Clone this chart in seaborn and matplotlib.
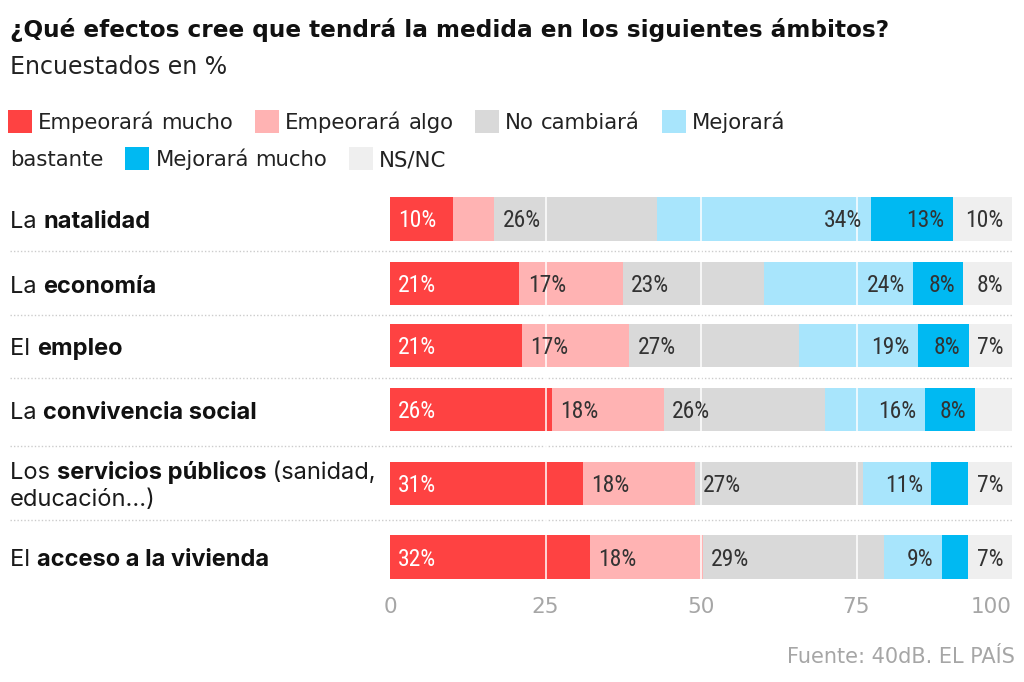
import numpy as np
import pandas as pd
import seaborn as sns
import matplotlib
matplotlib.use('Agg')
import matplotlib.pyplot as plt
from matplotlib import font_manager as fm
from matplotlib.patches import Rectangle
from matplotlib.transforms import blended_transform_factory

# Datos (encuestados en %)
categorias = ['Empeorará mucho', 'Empeorará algo', 'No cambiará',
              'Mejorará bastante', 'Mejorará mucho', 'NS/NC']
ambito_pre = ['La ', 'La ', 'El ', 'La ', 'Los ', 'El ']
ambito_bold = ['natalidad', 'economía', 'empleo', 'convivencia social',
               'servicios públicos', 'acceso a la vivienda']
ambito_post = ['', '', '', '', ' (sanidad,', '']
ambito_linea2 = ['', '', '', '', 'educación...)', '']

empeorara_mucho = [10.2, 20.8, 21.2, 26, 31, 32.2]
empeorara_algo = [6.6, 16.6, 17.3, 18, 18, 18.1]
no_cambiara = [26.2, 22.8, 27.2, 26, 27, 29.2]
mejorara_bastante = [34.3, 23.9, 19.2, 16, 11, 9.2]
mejorara_mucho = [13.2, 8.1, 8.2, 8, 6, 4.3]
ns_nc = [9.5, 7.8, 6.9, 6, 7, 7.0]

ticks = [0, 25, 50, 75, 100]
colores = ['#fe4242', '#ffb3b3', '#d9d9d9', '#a8e5fc', '#00b9f2', '#efefef']


def has_font(name):
    try:
        fm.findfont(fm.FontProperties(family=name), fallback_to_default=False)
        return True
    except Exception:
        return False


COND = 'DejaVu Sans'
for nombre in ['Roboto Condensed', 'Liberation Sans Narrow', 'Roboto']:
    if has_font(nombre):
        COND = nombre
        break
LABEL_FONT = 'Inter' if has_font('Inter') else 'DejaVu Sans'

sns.set_theme(style='white')
plt.rcParams['font.family'] = ['DejaVu Sans']

W, H = 1024, 682
fig = plt.figure(figsize=(W / 100, H / 100), dpi=100)


def fx(x):
    return x / W


def fy(y):
    return 1 - y / H


# posiciones de las filas (la fila de dos líneas deja más hueco)
posiciones = [0, 1.015, 2.0, 3.0, 4.165, 5.33]
y_top_px, y_bot_px = 219, 557
unit = (y_bot_px - y_top_px) / posiciones[-1]
ax_top = y_top_px - 0.5 * unit
ax_bot = y_bot_px + 0.5 * unit
ax = fig.add_axes([fx(390), fy(ax_bot), fx(1012) - fx(390), (ax_bot - ax_top) / H])

valores = np.array([empeorara_mucho, empeorara_algo, no_cambiara,
                    mejorara_bastante, mejorara_mucho, ns_nc], dtype=float)
acumulado = np.cumsum(valores, axis=0)
inicio = acumulado - valores

df = pd.DataFrame({'pos': posiciones})
for k in range(len(categorias) - 1, -1, -1):
    df['acum'] = acumulado[k]
    sns.barplot(data=df, x='acum', y='pos', orient='h', native_scale=True,
                color=colores[k], saturation=1, width=0.69, linewidth=0,
                errorbar=None, ax=ax)

ax.set_xlim(0, 100)
ax.set_ylim(posiciones[-1] + 0.5, -0.5)
for t in ticks[1:-1]:
    ax.axvline(t, color='white', lw=1.1, zorder=5)

# etiquetas de valor (las muy pequeñas no se rotulan)
for k in range(len(categorias)):
    for i, p in enumerate(posiciones):
        v = valores[k, i]
        if v < 6.8:
            continue
        col = 'white' if k == 0 else '#333333'
        if k < 3:
            xv, ha, dx = inicio[k, i], 'left', 6
        else:
            xv, ha, dx = acumulado[k, i], 'right', -6
        ax.annotate(f'{v:.0f}%', (xv, p), xytext=(dx, -8.5 * 0.72),
                    textcoords='offset points', ha=ha, va='baseline',
                    fontsize=17, family=COND, color=col,
                    zorder=6, annotation_clip=False)

ax.set_xticks(ticks)
ax.set_xticklabels([str(t) for t in ticks], fontsize=15.5, color='#a6a6a6')
ax.get_xticklabels()[-1].set_ha('right')
ax.tick_params(axis='x', length=0, pad=6)
ax.set_yticks([])
ax.set_xlabel('')
ax.set_ylabel('')
sns.despine(ax=ax, left=True, bottom=True)

# separadores punteados entre filas
trans = blended_transform_factory(fig.transFigure, ax.transData)
for a, b in zip(posiciones[:-1], posiciones[1:]):
    ax.plot([fx(10), fx(1012)], [(a + b) / 2] * 2, transform=trans, clip_on=False,
            color='#cccccc', lw=1, ls=(0, (1, 1.5)), zorder=1)

renderer = fig.canvas.get_renderer()


def ancho(t):
    return t.get_window_extent(renderer).width


# etiquetas de los ámbitos (parte en negrita)
FS_ROW = 17
for i, p in enumerate(posiciones):
    yc = H - ax.transData.transform((0, p))[1]
    y1 = yc - 13.5 if ambito_linea2[i] else yc
    x = 10
    t = fig.text(fx(x), fy(y1 + 9.5), ambito_pre[i], fontsize=FS_ROW,
                 family=LABEL_FONT, color='#1a1a1a', va='baseline')
    x += ancho(t)
    t = fig.text(fx(x), fy(y1 + 9.5), ambito_bold[i], fontsize=FS_ROW,
                 family=LABEL_FONT, weight='bold', color='#111111', va='baseline')
    x += ancho(t)
    if ambito_post[i]:
        fig.text(fx(x), fy(y1 + 9.5), ambito_post[i], fontsize=FS_ROW,
                 family=LABEL_FONT, color='#1a1a1a', va='baseline')
    if ambito_linea2[i]:
        fig.text(fx(10), fy(yc + 13.5 + 9.5), ambito_linea2[i], fontsize=FS_ROW,
                 family=LABEL_FONT, color='#1a1a1a', va='baseline')

# título y subtítulo
fig.text(fx(10), fy(37), '¿Qué efectos cree que tendrá la medida en los siguientes ámbitos?',
         fontsize=16.7, weight='bold', color='#111111', va='baseline')
fig.text(fx(10), fy(74), 'Encuestados en %', fontsize=17, color='#222222',
         va='baseline')

# leyenda en línea con salto de palabra
FS_LEG = 15.3
lx, lb = 8, 129
max_x = 850
t1 = fig.text(0, 0, 'a a', fontsize=FS_LEG)
t2 = fig.text(0, 0, 'aa', fontsize=FS_LEG)
sp = ancho(t1) - ancho(t2)
t1.remove()
t2.remove()
for color, cat in zip(colores, categorias):
    fig.add_artist(Rectangle((fx(lx), fy(lb + 4)), 24 / W, 23 / H,
                             transform=fig.transFigure, color=color, lw=0))
    lx += 30
    for w in cat.split(' '):
        t = fig.text(fx(lx), fy(lb), w, fontsize=FS_LEG, color='#222222',
                     va='baseline')
        wd = ancho(t)
        if lx + wd > max_x:
            lx, lb = 10, lb + 37
            t.set_position((fx(lx), fy(lb)))
        lx += wd + sp
    lx += 22 - sp

# fuente
fig.text(fx(1015), fy(663), 'Fuente: 40dB. EL PAÍS', fontsize=15, color='#a6a6a6',
         ha='right', va='baseline')

fig.savefig('out.png', dpi=100, facecolor='white')
